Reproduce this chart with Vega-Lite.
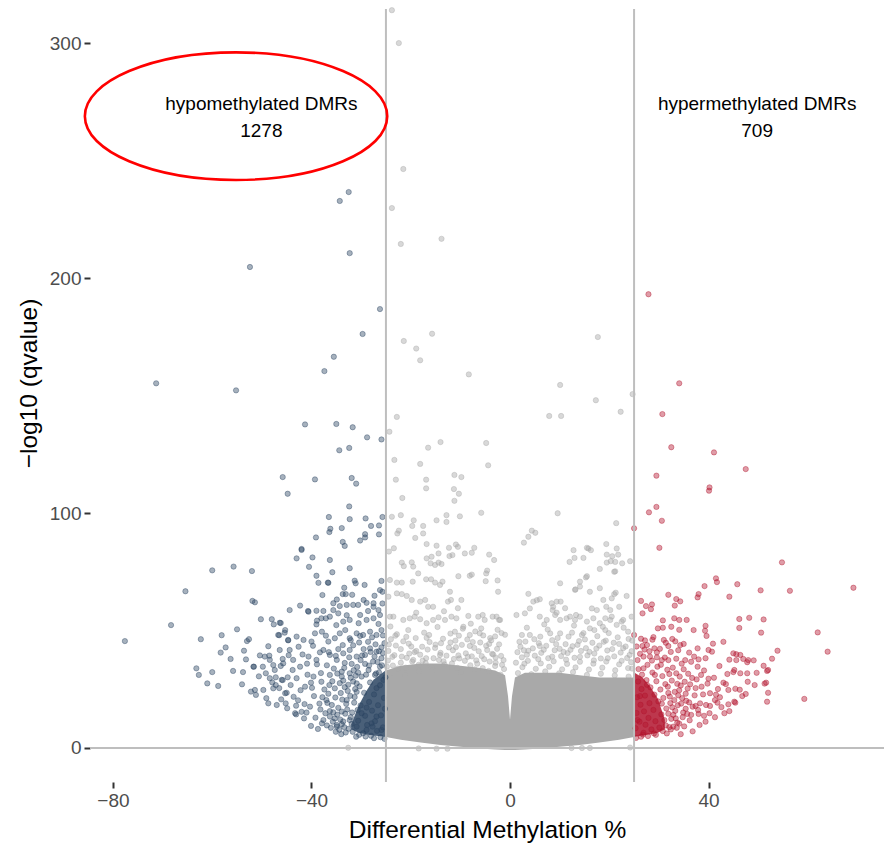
{
"$schema":"https://vega.github.io/schema/vega-lite/v6.json",
"width":794,"height":773,
"autosize":{"type":"none"},
"padding":{"left":90,"top":9,"right":0,"bottom":61},
"background":"white",
"config":{"view":{"stroke":null},"font":"Liberation Sans",
 "axisX":{"domain":false,"grid":false,"tickSize":6,"tickWidth":2,"tickColor":"#333333","labelColor":"#4d4d4d","labelFontSize":19,"labelPadding":3,"labelFont":"Liberation Sans","titleFont":"Liberation Sans","titleFontSize":24.5,"titleFontWeight":"normal","titleColor":"#000000","titleBaseline":"alphabetic","titleY":55},
 "axisY":{"domain":false,"grid":false,"tickSize":6,"tickWidth":2,"tickColor":"#333333","labelColor":"#4d4d4d","labelFontSize":19,"labelPadding":3,"labelFont":"Liberation Sans","titleFont":"Liberation Sans","titleFontSize":24.5,"titleFontWeight":"normal","titleColor":"#000000","titleBaseline":"alphabetic","titleX":-54,"titleY":374}
},
"datasets":{
"gmass":[{"x":-25,"top":33,"bot":4.7},{"x":-22,"top":35,"bot":3.5},{"x":-18,"top":36,"bot":2.3},{"x":-14,"top":36,"bot":1.3},{"x":-10,"top":35,"bot":0.5},{"x":-6,"top":34,"bot":-0.2},{"x":-3,"top":33,"bot":-0.6},{"x":-1,"top":31,"bot":-0.8},{"x":-0.4,"top":22,"bot":-0.9},{"x":0,"top":12,"bot":-0.9},{"x":0.4,"top":22,"bot":-0.9},{"x":1,"top":30,"bot":-0.8},{"x":3,"top":32,"bot":-0.6},{"x":6,"top":32,"bot":-0.2},{"x":10,"top":32,"bot":0.5},{"x":14,"top":31,"bot":1.3},{"x":18,"top":30,"bot":2.3},{"x":22,"top":30,"bot":3.5},{"x":25,"top":30,"bot":4.7}],
"bmass":[{"x":-32,"top":10,"bot":8},{"x":-30.5,"top":18,"bot":6.5},{"x":-29,"top":24,"bot":5.8},{"x":-27.5,"top":29,"bot":5.3},{"x":-25.1,"top":33,"bot":4.8}],
"rmass":[{"x":25.1,"top":32,"bot":4.8},{"x":26.7,"top":30,"bot":5.3},{"x":28.3,"top":26,"bot":5.8},{"x":29.8,"top":21,"bot":6.5},{"x":31.2,"top":12,"bot":8}],
"gray":[
{"x":-23.8,"y":314},{"x":-22.4,"y":300},{"x":-21.5,"y":246.4},{"x":-23.8,"y":229.8},{"x":-22,"y":214.5},{"x":-13.8,"y":216.7},{"x":-15.7,"y":176.3},{"x":-21.4,"y":173.2},{"x":-18.9,"y":170},{"x":-18.1,"y":165},{"x":-8.3,"y":159},{"x":17.7,"y":174.9},{"x":10.1,"y":154.5},{"x":17.3,"y":148},{"x":24.7,"y":150.6},{"x":22.3,"y":143.1},{"x":7.9,"y":141.3},{"x":10.3,"y":141.3},{"x":-22.8,"y":140.9},{"x":-24.3,"y":134.6},{"x":-14,"y":130.2},{"x":-16.5,"y":127.8},{"x":-4.8,"y":129.8},{"x":-4.4,"y":120.3},{"x":-23.3,"y":122.6},{"x":-18.1,"y":120.9},{"x":-23,"y":114.2},{"x":-16.9,"y":114.2},{"x":-16.9,"y":110.5},{"x":-11.2,"y":116.2},{"x":-9.8,"y":115.3},{"x":-11.3,"y":110.2},{"x":-10.3,"y":108.2},{"x":-11.2,"y":105.2},{"x":-21.7,"y":106.4},{"x":-5.8,"y":100.1},{"x":9.6,"y":99.9},{"x":21.4,"y":95.7},{"x":-23.8,"y":98.4},{"x":-22,"y":99.1},{"x":-19.4,"y":96.9},{"x":-14.8,"y":96.9},{"x":-12.8,"y":99.1},{"x":-12.8,"y":96.2},{"x":-10.1,"y":98.6},{"x":-19.7,"y":94.5},{"x":-17.5,"y":94.5},{"x":-17.5,"y":91.3},{"x":-22.4,"y":92.5},{"x":-22.7,"y":91.3},{"x":-19.1,"y":89.4},{"x":4.4,"y":92.5},{"x":5.1,"y":91.6},{"x":3.7,"y":89.9},{"x":2.8,"y":87.4},
{"x":-23.4,"y":85},{"x":-24.4,"y":83.6},{"x":-16.8,"y":86.8},{"x":-14.8,"y":86.1},{"x":-12.3,"y":85.2},{"x":-10.9,"y":86.6},{"x":-10.5,"y":85.6},{"x":-9.1,"y":82.8},{"x":-7.7,"y":83.1},{"x":-4.2,"y":82.3},{"x":-3.2,"y":80},{"x":-4.8,"y":74.3},{"x":-4.6,"y":75.5},{"x":-7.7,"y":73.8},{"x":-10.4,"y":73.1},{"x":-2.5,"y":71.3},{"x":-2.4,"y":66.5},{"x":-21.8,"y":78.9},{"x":-19.8,"y":79},{"x":-21.4,"y":77.4},{"x":-19.5,"y":77.2},{"x":-16.8,"y":80.7},{"x":-15.8,"y":81.4},{"x":-16,"y":78.6},{"x":-15.1,"y":77.9},{"x":-14.4,"y":78.9},{"x":-13.8,"y":78.3},{"x":-12.2,"y":81.7},{"x":-11.6,"y":82.1},{"x":-14.4,"y":82.8},{"x":-24.2,"y":71.5},{"x":-22.8,"y":70.4},{"x":-21.8,"y":70.4},{"x":-19.6,"y":70.8},{"x":-18.5,"y":74.3},{"x":-16.9,"y":71.8},{"x":-15.9,"y":71.8},{"x":-15.1,"y":70.4},{"x":-14.1,"y":69.4},{"x":-13.6,"y":70.8},{"x":-12.1,"y":66.5},{"x":-11.9,"y":63},{"x":-24.5,"y":64.4},{"x":-22.8,"y":65.8},{"x":-21.8,"y":65.5},{"x":-20.8,"y":64.7},{"x":-19.8,"y":63},{"x":-18.1,"y":62.3},{"x":-17.1,"y":63},{"x":-16.5,"y":60.1},{"x":-15.5,"y":60.1},{"x":-12.5,"y":62.3},{"x":-9.8,"y":63},{"x":-10.5,"y":59.5},{"x":-24.2,"y":55.9},{"x":-23.5,"y":55.9},{"x":-21.5,"y":54.5},{"x":-20.2,"y":55.2},{"x":-19.2,"y":55.9},{"x":-18.1,"y":54.8},{"x":-16.8,"y":53.1},{"x":-15.5,"y":54.5},{"x":-14.4,"y":55.6},{"x":-13.1,"y":54.5},{"x":-11.8,"y":55.9},{"x":-10.8,"y":55.2},{"x":-8.4,"y":56.2},{"x":-6.4,"y":55.9},{"x":-5.1,"y":54.5},{"x":-5.8,"y":50.9},{"x":-2.7,"y":55.9},{"x":-2,"y":54.5},{"x":-1.7,"y":48.9},{"x":-1,"y":48.2},{"x":-3,"y":47.5},{"x":-4,"y":46.8},
{"x":12.8,"y":84.2},{"x":15.8,"y":84.9},{"x":16.3,"y":84.2},{"x":19.4,"y":86.8},{"x":21.5,"y":84.9},{"x":19.5,"y":82.3},{"x":20.3,"y":79.5},{"x":21.2,"y":79.2},{"x":21.8,"y":82.3},{"x":12,"y":79.2},{"x":13,"y":80.9},{"x":14.8,"y":80.9},{"x":15.5,"y":73.1},{"x":18.1,"y":76.2},{"x":21.2,"y":75.2},{"x":24.2,"y":79.5},{"x":3.7,"y":65.6},{"x":4.7,"y":62.3},{"x":6,"y":63.3},{"x":8.4,"y":61.6},{"x":9.4,"y":62.3},{"x":10.1,"y":70.1},{"x":10.2,"y":62.3},{"x":11.1,"y":59.5},{"x":13.1,"y":67.3},{"x":14.1,"y":68.7},{"x":14.1,"y":70.8},{"x":16.1,"y":66.5},{"x":18.1,"y":68},{"x":18.8,"y":63},{"x":20.5,"y":63.7},{"x":21.3,"y":66.1},{"x":23.5,"y":64.7},{"x":24.5,"y":55.9},{"x":22,"y":60.1},{"x":20.2,"y":58.7},{"x":19.2,"y":55.2},{"x":1.3,"y":56.6},{"x":3,"y":57.3},{"x":6,"y":55.9},{"x":7.4,"y":54.5},{"x":8.6,"y":58.7},{"x":9.1,"y":56.6},{"x":10.1,"y":54.5},{"x":12.1,"y":55.9},{"x":13.1,"y":54.5},{"x":14.1,"y":55.9},{"x":15.5,"y":53.8},{"x":16.8,"y":55.2},{"x":18.1,"y":53.1},{"x":20.2,"y":54.5},{"x":21.5,"y":52.4},{"x":22.8,"y":54.5},{"x":23.8,"y":49.5},{"x":19.2,"y":50.2},{"x":17,"y":50.2},{"x":14.8,"y":48.9},{"x":12.5,"y":49.1},
{"x":15.5,"y":85.2},{"x":-7.2,"y":85.2},{"x":19.5,"y":78.9},{"x":20.6,"y":81.6},{"x":-8.1,"y":73.3},{"x":-4.9,"y":71},{"x":4,"y":59.4},{"x":5.4,"y":62.9},{"x":13.2,"y":67.5},{"x":15.3,"y":72.6},{"x":21,"y":75},{"x":21,"y":65.5},{"x":22.6,"y":78.6},{"x":8.7,"y":60.1},{"x":9.4,"y":57.6},{"x":11.4,"y":55.2},{"x":13.3,"y":56.6},{"x":16.5,"y":59.4},{"x":17.5,"y":58.7},{"x":19.4,"y":60.1},{"x":20.5,"y":55.9},{"x":22.5,"y":53.8},{"x":18.7,"y":51.6},{"x":16.1,"y":50.9},{"x":14.5,"y":48.1},{"x":11.8,"y":47.4},{"x":10.1,"y":48.8},{"x":8.1,"y":48.8},{"x":6.1,"y":47.4},{"x":4,"y":48.1},{"x":2.4,"y":48.1},{"x":-2.2,"y":54.5},{"x":-3.5,"y":55.9},{"x":-5.5,"y":56.6},{"x":-6.1,"y":48.8},{"x":-8.1,"y":48.1},{"x":-9.4,"y":51.6},{"x":-11.1,"y":49.5},
{"x":-20.5,"y":50.2},{"x":-17.3,"y":49.1},{"x":-14.6,"y":51.5},{"x":-12,"y":48.7},{"x":-9.5,"y":50.8},{"x":-7,"y":49.6},{"x":-22.8,"y":48.4},{"x":-24.1,"y":51.7},{"x":-18.9,"y":57.6},{"x":-13.3,"y":58.2},{"x":-7.9,"y":52.9},{"x":-2.5,"y":50.3},{"x":3.4,"y":51.2},{"x":6.9,"y":52.6},{"x":17.6,"y":47.6},{"x":21.7,"y":47.1},{"x":23.9,"y":46.4},{"x":12.9,"y":52.1},
{"x":-24,"y":46.3},{"x":-21.5,"y":45.4},{"x":-19,"y":46.8},{"x":-16.2,"y":45.1},{"x":-13.5,"y":46.5},{"x":-11,"y":45.7},{"x":-8.6,"y":46.2},{"x":-6,"y":44.9},{"x":-3.8,"y":45.8},
{"x":-23,"y":43.6},{"x":-20.4,"y":44.4},{"x":-17.7,"y":43.1},{"x":-15,"y":44},{"x":-12.3,"y":42.8},{"x":-9.7,"y":43.9},{"x":-7.2,"y":42.6},{"x":-4.8,"y":43.5},{"x":-2.6,"y":42.2},
{"x":-24.5,"y":41.3},{"x":-22,"y":42.1},{"x":-19.2,"y":40.8},{"x":-16.6,"y":41.9},{"x":-14,"y":40.5},{"x":-11.5,"y":41.6},{"x":-8.9,"y":40.3},{"x":-6.3,"y":41.2},{"x":-3.6,"y":40.1},{"x":-1.8,"y":39.2},
{"x":-23.3,"y":39.5},{"x":-20.8,"y":38.4},{"x":-18.1,"y":39.7},{"x":-15.4,"y":38.2},{"x":-12.8,"y":39.3},{"x":-10.2,"y":38.1},{"x":-7.7,"y":39},{"x":-5.2,"y":37.8},{"x":-2.9,"y":38.5},
{"x":-24.6,"y":37.2},{"x":-22,"y":36.3},{"x":-19.5,"y":37.5},{"x":-17,"y":36.1},{"x":-14.3,"y":37.4},{"x":-11.7,"y":36},{"x":-9.1,"y":37.1},{"x":-6.6,"y":35.9},{"x":-4.1,"y":36.8},{"x":-1.6,"y":35.4},
{"x":-23.6,"y":35.1},{"x":-21,"y":34.2},{"x":-18.4,"y":35.4},{"x":-15.8,"y":34.4},{"x":-13.2,"y":35.6},{"x":-10.6,"y":34.1},{"x":-8,"y":35.2},{"x":-5.5,"y":34},{"x":-3,"y":34.9},{"x":-1.2,"y":33.6},
{"x":3.1,"y":45.3},{"x":5.8,"y":44.6},{"x":8.5,"y":45.9},{"x":11.2,"y":44.2},{"x":13.9,"y":45.5},{"x":16.6,"y":44.8},{"x":19.3,"y":45.7},{"x":22,"y":44.3},
{"x":2.1,"y":43.1},{"x":4.6,"y":42.4},{"x":7.3,"y":43.5},{"x":10,"y":42.2},{"x":12.6,"y":43.3},{"x":15.3,"y":42.5},{"x":18,"y":43.6},{"x":20.6,"y":42.1},{"x":23.3,"y":43.2},
{"x":1.5,"y":40.8},{"x":3.7,"y":41.4},{"x":6.3,"y":40.5},{"x":9,"y":41.6},{"x":11.6,"y":40.4},{"x":14.3,"y":41.3},{"x":17,"y":40.2},{"x":19.6,"y":41.5},{"x":22.3,"y":40.6},{"x":24.5,"y":41.2},
{"x":2.4,"y":38.6},{"x":5,"y":39.3},{"x":7.7,"y":38.2},{"x":10.3,"y":39.1},{"x":13,"y":38.4},{"x":15.6,"y":39.4},{"x":18.3,"y":38.1},{"x":21,"y":39},{"x":23.6,"y":38.3},
{"x":1.2,"y":36.3},{"x":3.6,"y":37.1},{"x":6.2,"y":36},{"x":8.8,"y":36.9},{"x":11.5,"y":35.8},{"x":14.1,"y":36.7},{"x":16.8,"y":35.9},{"x":19.4,"y":36.8},{"x":22,"y":35.6},{"x":24.4,"y":36.5},
{"x":2.5,"y":34.4},{"x":5.2,"y":33.7},{"x":7.9,"y":34.6},{"x":10.5,"y":33.5},{"x":13.2,"y":34.3},{"x":15.9,"y":33.4},{"x":18.6,"y":34.2},{"x":21.2,"y":33.1},{"x":23.8,"y":34},
{"x":-24.2,"y":31.5},{"x":-22.6,"y":33.8},{"x":-21.1,"y":30.9},{"x":-19.7,"y":36.8},{"x":-18.3,"y":32.7},{"x":-16.9,"y":38.2},{"x":-15.5,"y":33.1},{"x":-14.1,"y":39.6},{"x":-12.7,"y":34.4},{"x":-11.3,"y":37.9},{"x":-9.9,"y":32.2},{"x":-8.5,"y":38.8},{"x":-7.1,"y":33.5},{"x":-5.7,"y":39.1},{"x":-4.3,"y":32.8},{"x":-2.9,"y":36.3},{"x":-1.9,"y":31.2},{"x":-1.3,"y":37.4},
{"x":-23.7,"y":38.8},{"x":-20.3,"y":40.2},{"x":-17.6,"y":37.2},{"x":-13.4,"y":36.9},{"x":-10.4,"y":39.4},{"x":-6.8,"y":37.3},{"x":-3.4,"y":39.8},{"x":-24.8,"y":34.6},{"x":-21.8,"y":38.9},{"x":-18.9,"y":41.3},{"x":-15.1,"y":42.6},{"x":-12,"y":44.9},{"x":-8.1,"y":43.4},{"x":-4.6,"y":41.7},{"x":-2.2,"y":44.1},{"x":-20.9,"y":47.3},{"x":-16.3,"y":48.1},{"x":-10.3,"y":47.8},{"x":-5.4,"y":47.9},
{"x":1.6,"y":31.9},{"x":2.9,"y":35.9},{"x":4.3,"y":31.4},{"x":5.7,"y":37.8},{"x":7.1,"y":32.6},{"x":8.5,"y":38.9},{"x":9.9,"y":31.8},{"x":11.3,"y":37.6},{"x":12.7,"y":32.3},{"x":14.1,"y":38.8},{"x":15.5,"y":31.1},{"x":16.9,"y":37.3},{"x":18.3,"y":31.6},{"x":19.7,"y":38.2},{"x":21.1,"y":30.9},{"x":22.5,"y":37.1},{"x":23.9,"y":30.4},{"x":24.6,"y":33.8},
{"x":3.4,"y":39.7},{"x":6.8,"y":41.8},{"x":10.8,"y":40.9},{"x":13.6,"y":43.9},{"x":17.4,"y":42.3},{"x":20.9,"y":44.8},{"x":24.1,"y":39.6},{"x":4.9,"y":46.3},{"x":9.6,"y":46.8},{"x":15.1,"y":46.2},{"x":19.9,"y":48.9},{"x":1.9,"y":45.2},{"x":7.6,"y":50.4},{"x":22.9,"y":51.2},
{"x":-24.4,"y":44.1},{"x":-23.1,"y":47.8},{"x":-19.9,"y":43.2},{"x":-16.8,"y":46.9},{"x":-13.9,"y":44.6},{"x":-10.9,"y":42.9},{"x":-7.5,"y":45.1},{"x":-4.2,"y":44.3},{"x":2.8,"y":41.6},{"x":6,"y":43.4},{"x":9.3,"y":44.2},{"x":12.2,"y":41.8},{"x":16,"y":40.9},{"x":18.9,"y":45.2},{"x":22.8,"y":42.5},{"x":24.6,"y":45.7},
{"x":-32.6,"y":0.1},{"x":-18.4,"y":-0.2},{"x":-14.8,"y":-0.3},{"x":-12.6,"y":-0.3},{"x":12.4,"y":0},{"x":14.5,"y":0},{"x":16.1,"y":0},{"x":24.2,"y":0.2}
],
"hypo":[
{"x":-32.5,"y":236.6},{"x":-34.3,"y":232.8},{"x":-32.3,"y":210.6},{"x":-52.4,"y":204.7},{"x":-26.2,"y":186.8},{"x":-29.7,"y":176.2},{"x":-35.5,"y":166.5},{"x":-37.4,"y":160.4},{"x":-55.2,"y":152.2},{"x":-71.3,"y":155.2},{"x":-41.3,"y":137.7},{"x":-35,"y":137.9},{"x":-31.7,"y":136.5},{"x":-28.8,"y":132.2},{"x":-25.9,"y":131.3},{"x":-34.4,"y":126.7},{"x":-32.4,"y":127.7},{"x":-45.8,"y":115.3},{"x":-39.3,"y":114.3},{"x":-31.9,"y":114.9},{"x":-31,"y":112.5},{"x":-44.8,"y":108.2},{"x":-32.4,"y":102.8},{"x":-36.5,"y":98.3},{"x":-32.3,"y":97.4},{"x":-29.1,"y":97.7},{"x":-25.7,"y":98.3},{"x":-36.2,"y":93.3},{"x":-36.4,"y":91.9},{"x":-33.9,"y":93.6},{"x":-28,"y":94.5},{"x":-26.4,"y":94.7},{"x":-29.2,"y":91},{"x":-29.2,"y":89.6},{"x":-26.4,"y":90.9},{"x":-39.1,"y":89.6},{"x":-33.7,"y":87.7},{"x":-33.3,"y":86},{"x":-30.2,"y":88.3},{"x":-42,"y":84.7},
{"x":-77.6,"y":45.5},{"x":-68.3,"y":52.3},{"x":-65.4,"y":66.7},{"x":-60,"y":75.6},{"x":-55.7,"y":77.2},{"x":-52,"y":75.3},{"x":-51.9,"y":62.6},{"x":-51.4,"y":62},{"x":-62.3,"y":46.3},{"x":-58.1,"y":48},{"x":-55,"y":50.5},{"x":-57.3,"y":42.8},{"x":-58.3,"y":40.6},{"x":-56.3,"y":37.9},{"x":-63.2,"y":33.9},{"x":-62.7,"y":31.1},{"x":-60,"y":32.3},{"x":-61,"y":27.5},{"x":-58.8,"y":26.4},{"x":-54,"y":27.1},{"x":-53.8,"y":32.3},{"x":-53,"y":45.5},{"x":-52.6,"y":46.3},{"x":-53.6,"y":41.4},{"x":-51.6,"y":34.6},{"x":-52.2,"y":24},{"x":-51.2,"y":22.6},{"x":-51.4,"y":24.7},{"x":-50.2,"y":54.8},{"x":-48,"y":54.8},{"x":-46.2,"y":53.2},{"x":-47.6,"y":52.6},{"x":-48.7,"y":43.3},{"x":-48.5,"y":39.3},{"x":-50.4,"y":39.4},{"x":-46.5,"y":48},{"x":-45.4,"y":49.1},{"x":-44.7,"y":45.8},{"x":-46.4,"y":41.7},{"x":-44.4,"y":41.7},{"x":-45.8,"y":37.9},{"x":-46.2,"y":34.9},{"x":-47.7,"y":35.3},{"x":-49.8,"y":34.6},{"x":-49.2,"y":31.8},{"x":-48.4,"y":29.7},{"x":-47.2,"y":30.1},{"x":-47.2,"y":26.8},{"x":-46.5,"y":25.5},{"x":-45.8,"y":28.9},{"x":-44.8,"y":30.1},{"x":-44.2,"y":26.8},{"x":-45,"y":23.5},{"x":-48.7,"y":19},{"x":-47,"y":18.3},{"x":-45.2,"y":19},{"x":-43.1,"y":14.3},{"x":-43.1,"y":18},{"x":-42,"y":15.4},{"x":-41,"y":15.1},{"x":-44.4,"y":58.7},{"x":-42.3,"y":60.6},{"x":-40.7,"y":58.3},{"x":-39,"y":58.4},{"x":-43,"y":80.7},{"x":-42,"y":84.3},{"x":-39.8,"y":81.1},{"x":-40.5,"y":77.1},{"x":-39,"y":73.3},{"x":-36.3,"y":80},{"x":-35.8,"y":74.8},{"x":-38.6,"y":70.3},{"x":-36.6,"y":70.3},{"x":-37.8,"y":65.1},{"x":-32.3,"y":76.5},{"x":-33.4,"y":68.2},{"x":-33.7,"y":65.5},{"x":-33.1,"y":65.5},{"x":-31.3,"y":71.2},{"x":-31.1,"y":70.1},{"x":-29.3,"y":69.4},{"x":-25.9,"y":71.1},{"x":-26.2,"y":67.2},{"x":-25.7,"y":66.5},{"x":-35.6,"y":61.6},{"x":-34.9,"y":63.2},{"x":-34.3,"y":60.4},{"x":-35.6,"y":58.7},{"x":-37.6,"y":58.3},{"x":-37.1,"y":55.2},{"x":-38.9,"y":54.2},{"x":-39,"y":52.6},
{"x":-36.7,"y":70.4},{"x":-27.5,"y":61.6},{"x":-29.5,"y":63},{"x":-32.9,"y":60.9},{"x":-31.6,"y":60.9},{"x":-30.6,"y":60.9},{"x":-28.9,"y":61.8},{"x":-27.5,"y":60.1},{"x":-26.5,"y":58.7},{"x":-40.6,"y":58},{"x":-38,"y":55.2},{"x":-36.3,"y":55.9},{"x":-34.6,"y":57.3},{"x":-33.6,"y":53.8},{"x":-32.3,"y":54.5},{"x":-30.2,"y":56.6},{"x":-28.9,"y":54.5},{"x":-27.5,"y":55.2},{"x":-26.2,"y":56.6},{"x":-46.4,"y":53.3},{"x":-45.3,"y":50.2},{"x":-46.7,"y":48.1},{"x":-44.7,"y":46},{"x":-43,"y":47.4},{"x":-41.6,"y":46},{"x":-40,"y":45.3},{"x":-39.3,"y":48.8},{"x":-37.9,"y":49.5},{"x":-36.6,"y":45.3},{"x":-35.3,"y":46.7},{"x":-34.3,"y":48.8},{"x":-33.2,"y":50.2},{"x":-32.3,"y":46.7},{"x":-30.9,"y":48.8},{"x":-29.6,"y":48.1},{"x":-28.2,"y":49.5},{"x":-26.9,"y":48.1},{"x":-25.9,"y":50.2},{"x":-51.7,"y":34.6},{"x":-49.4,"y":38.9},{"x":-48.4,"y":37.5},{"x":-47.4,"y":33.2},{"x":-45.7,"y":36},{"x":-43.7,"y":37.5},{"x":-42.3,"y":34.6},{"x":-40.6,"y":38.9},{"x":-39,"y":37.5},{"x":-37.6,"y":41.7},{"x":-36.3,"y":39.6},{"x":-34.9,"y":37.5},{"x":-33.6,"y":40.3},{"x":-32.3,"y":41.7},{"x":-30.9,"y":38.9},{"x":-29.2,"y":39.6},{"x":-28.2,"y":42.4},{"x":-26.9,"y":41},{"x":-25.9,"y":38.2},{"x":-49.7,"y":24.7},{"x":-47.7,"y":25.4},{"x":-45.3,"y":23.3},{"x":-46,"y":29},{"x":-43,"y":29.7},{"x":-41.3,"y":26.1},{"x":-39.6,"y":30.4},{"x":-38,"y":28.2},{"x":-36.3,"y":31.1},{"x":-35.3,"y":25.4},{"x":-33.9,"y":30.4},{"x":-32.3,"y":31.8},{"x":-30.9,"y":27.5},{"x":-29.9,"y":30.4},{"x":-28.5,"y":33.2},{"x":-27.2,"y":31.1},{"x":-26.2,"y":34.6},{"x":-25.5,"y":29},{"x":-43.3,"y":14.8},{"x":-40.3,"y":17.6},{"x":-37.9,"y":10.5},{"x":-36.3,"y":13.4},{"x":-34.9,"y":9.1},{"x":-33.9,"y":15.5},{"x":-32.3,"y":11.9},{"x":-30.9,"y":9.1},{"x":-29.9,"y":14.8},{"x":-28.9,"y":7.7},{"x":-27.9,"y":10.5},{"x":-26.9,"y":13.4},{"x":-25.9,"y":7.7},{"x":-32.9,"y":20.4},{"x":-37,"y":20.4},
{"x":-39.5,"y":22.1},{"x":-38.2,"y":16.4},{"x":-37.4,"y":24.9},{"x":-36.8,"y":19.2},{"x":-36.1,"y":8.6},{"x":-35.5,"y":33.8},{"x":-35.2,"y":21.5},{"x":-34.8,"y":14.2},{"x":-34.3,"y":27.6},{"x":-34,"y":5.9},{"x":-33.6,"y":11.3},{"x":-33.3,"y":36.2},{"x":-33,"y":18.8},{"x":-32.7,"y":24.3},{"x":-32.5,"y":8.2},{"x":-32.1,"y":29.9},{"x":-31.8,"y":15.1},{"x":-31.6,"y":43.7},{"x":-31.3,"y":21.7},{"x":-31,"y":4.8},{"x":-30.8,"y":34.5},{"x":-30.6,"y":11.6},{"x":-30.3,"y":26.2},{"x":-30.1,"y":18.1},{"x":-29.8,"y":39.4},{"x":-29.6,"y":6.3},{"x":-29.4,"y":23.5},{"x":-29.2,"y":13.7},{"x":-29,"y":31.2},{"x":-28.8,"y":9.8},{"x":-28.6,"y":45.2},{"x":-28.4,"y":19.6},{"x":-28.2,"y":27.9},{"x":-28,"y":5.2},{"x":-27.8,"y":15.9},{"x":-27.6,"y":36.8},{"x":-27.4,"y":22.8},{"x":-27.2,"y":11.4},{"x":-27,"y":31.7},{"x":-26.8,"y":7.3},{"x":-26.6,"y":18.2},{"x":-26.4,"y":41.2},{"x":-26.2,"y":26.7},{"x":-26,"y":13.9},{"x":-25.8,"y":35.2},{"x":-25.6,"y":8.8},{"x":-25.4,"y":21.3},{"x":-25.3,"y":44.6},{"x":-25.2,"y":16.7},{"x":-25.1,"y":30.1},
{"x":-41.5,"y":12.6},{"x":-42.7,"y":20.3},{"x":-40.8,"y":31.2},{"x":-38.9,"y":35.6},{"x":-37.6,"y":11.9},{"x":-36.5,"y":40.8},{"x":-35.8,"y":28.4},{"x":-34.6,"y":42.1},{"x":-33.9,"y":32.5},{"x":-32.4,"y":38.6},{"x":-31.1,"y":30.8},{"x":-30.4,"y":44.9},{"x":-29.2,"y":35.8},{"x":-28.1,"y":40.9},{"x":-27.1,"y":44.1},{"x":-26.4,"y":32.2},{"x":-25.6,"y":40.4},{"x":-26.9,"y":25.5},{"x":-27.7,"y":9.1},{"x":-28.9,"y":17.2},{"x":-30.9,"y":23.9},{"x":-31.9,"y":10.3},{"x":-33.2,"y":14.6},{"x":-34.9,"y":9.8},{"x":-36.3,"y":15.7},{"x":-38.7,"y":8.1},{"x":-40.1,"y":9.4},{"x":-43.6,"y":21.8},{"x":-44.9,"y":16.9},{"x":-46.1,"y":20.7},{"x":-47.9,"y":27.9},{"x":-50.6,"y":30.5},{"x":-49.1,"y":21.2},{"x":-53.2,"y":37.7},{"x":-55.8,"y":32.8},{"x":-41.8,"y":39.8},{"x":-39.7,"y":43.5},{"x":-37.1,"y":47.8},{"x":-35,"y":52.3},{"x":-32.9,"y":56.5},{"x":-30.5,"y":53.1},{"x":-28.6,"y":58.3},{"x":-26.5,"y":52.8},{"x":-25.7,"y":61.5},{"x":-27.3,"y":64.8},{"x":-31.8,"y":65.2},
{"x":-25.3,"y":3.9},{"x":-26.1,"y":4.6},{"x":-27.4,"y":4.2},{"x":-29.1,"y":4.9},{"x":-30.4,"y":5.6},{"x":-31.7,"y":6.9},{"x":-33.1,"y":6.6},{"x":-34.4,"y":7.8},{"x":-35.7,"y":11.2},{"x":-37.2,"y":14.8},{"x":-38.4,"y":18.9},{"x":-39.9,"y":25.6},{"x":-38.1,"y":31.9},{"x":-36.9,"y":35.2},{"x":-35.1,"y":39.2},{"x":-33.7,"y":43.8},{"x":-32.1,"y":45.9},{"x":-30.2,"y":47.7},{"x":-27.8,"y":47.1},{"x":-25.6,"y":47.9},{"x":-34.1,"y":23.4},{"x":-35.9,"y":18.3},{"x":-37.8,"y":21.6},{"x":-36.4,"y":26.8},{"x":-33.6,"y":28.7},{"x":-31.5,"y":33.1},{"x":-29.5,"y":42.1},{"x":-27.3,"y":38.9},{"x":-25.9,"y":42.8},{"x":-26.7,"y":36.6},{"x":-28.4,"y":35.1},{"x":-30.1,"y":37.4},{"x":-31.9,"y":35.8},{"x":-33.4,"y":34.1},{"x":-34.8,"y":31.7},{"x":-32.6,"y":26.9},{"x":-31.2,"y":25.1},{"x":-30.7,"y":16.2},{"x":-32.1,"y":13.1},{"x":-33.9,"y":10.1},{"x":-35.3,"y":12.6},{"x":-36.9,"y":9.6},{"x":-39.2,"y":12.9},{"x":-41.4,"y":18.7},{"x":-42.2,"y":24.6},{"x":-40.9,"y":35.9},{"x":-43.8,"y":33.2},{"x":-44.6,"y":39.5},{"x":-42.6,"y":43.1},{"x":-38.3,"y":40.7},{"x":-40.1,"y":27.8},{"x":-36.6,"y":23.1},
{"x":-33.8,"y":20.6},{"x":-34.6,"y":17.1},{"x":-35.6,"y":15.2},{"x":-33.3,"y":25.9},{"x":-32.2,"y":22.2},{"x":-31.4,"y":19.3},{"x":-32.8,"y":16.4},{"x":-34.2,"y":12.1},{"x":-35.1,"y":6.9},{"x":-33.4,"y":8.9},{"x":-31.6,"y":28.3},{"x":-30.6,"y":32.1}
],
"hyper":[
{"x":27.9,"y":193.1},{"x":34.1,"y":155.2},{"x":30.7,"y":142.1},{"x":32.5,"y":128},{"x":41.1,"y":125.8},{"x":47.5,"y":118.7},{"x":29.5,"y":115.9},{"x":40.2,"y":110.9},{"x":40.1,"y":109.5},{"x":29.5,"y":102.6},{"x":28,"y":100.3},{"x":30.6,"y":96.7},{"x":25,"y":93.5},{"x":30.1,"y":85.2},{"x":54.8,"y":79},{"x":41.5,"y":72.2},{"x":41.7,"y":70.6},{"x":39.2,"y":68.9},{"x":45.8,"y":69.7},{"x":69.2,"y":68.2},{"x":50.5,"y":67.1},{"x":56.4,"y":66.9},{"x":31.9,"y":65.2},{"x":38,"y":65.5},{"x":37.8,"y":64.1},{"x":44.2,"y":64.4},{"x":26.4,"y":62.6},{"x":27.4,"y":60.4},{"x":28.6,"y":61.1},{"x":28.4,"y":59.1},{"x":33.5,"y":63.4},{"x":34.3,"y":62.4},{"x":33.2,"y":60.6},{"x":26.7,"y":57.3},{"x":30.8,"y":54.3},{"x":33.1,"y":55.2},{"x":34.1,"y":54.5},{"x":35.6,"y":54.5},{"x":46.2,"y":54.9},{"x":48.2,"y":55.4},{"x":51.1,"y":54.7},{"x":29.8,"y":50.9},{"x":30.8,"y":51.2},{"x":32.5,"y":51.6},{"x":34.1,"y":50.3},{"x":37,"y":50.2},{"x":39.4,"y":52},{"x":39.3,"y":49.9},{"x":39.6,"y":47.7},{"x":46.2,"y":51.1},{"x":50.6,"y":49.1},{"x":62,"y":49.2},{"x":25,"y":48.1},{"x":26.4,"y":46.5},{"x":27.2,"y":45.8},{"x":28.7,"y":46.1},{"x":31,"y":46},{"x":32.7,"y":46.4},{"x":33.3,"y":45.4},{"x":35,"y":44.3},{"x":40.9,"y":44.4},{"x":43,"y":45.2},{"x":26.7,"y":43.4},{"x":27.6,"y":43.8},{"x":29.1,"y":42.4},{"x":31.9,"y":43.4},{"x":34.3,"y":43.8},{"x":37.8,"y":42.4},{"x":40,"y":41.7},{"x":40.7,"y":41},{"x":53.9,"y":41.4},{"x":64,"y":41},{"x":45,"y":40.3},{"x":45.6,"y":39.9},{"x":46.4,"y":39.6},{"x":44.2,"y":37.6},{"x":45.6,"y":37.4},{"x":47,"y":37.9},{"x":48,"y":37.4},{"x":49.1,"y":37.3},{"x":47.8,"y":36.5},{"x":52.8,"y":38},{"x":25.7,"y":37.4},{"x":26.9,"y":38.9},{"x":28.2,"y":38.9},{"x":29.6,"y":38.6},{"x":30.6,"y":37.4},{"x":31.9,"y":37.4},{"x":33.5,"y":38},{"x":35.3,"y":37.4},{"x":36.5,"y":36.7},{"x":38,"y":37.7},{"x":51.1,"y":35},{"x":52,"y":33.2},{"x":51.8,"y":32.8},{"x":45.2,"y":33.2},{"x":45,"y":32.3},{"x":46.4,"y":31.8},{"x":47.8,"y":31.8},{"x":49.7,"y":32},{"x":39.1,"y":33},{"x":41.1,"y":29.9},{"x":43,"y":27.8},{"x":40,"y":29.5},{"x":37.6,"y":29.2},{"x":38.5,"y":31.1},{"x":47.9,"y":28.2},{"x":49.3,"y":26.8},{"x":51.6,"y":27.8},{"x":51.3,"y":27.4},{"x":43.5,"y":27.2},{"x":44,"y":24.7},{"x":45.4,"y":25.2},{"x":46.3,"y":24.8},{"x":52,"y":23.5},{"x":51.8,"y":19.7},{"x":59.3,"y":20.9},{"x":46.8,"y":22.1},{"x":47.5,"y":23},{"x":45.4,"y":19.3},{"x":45.2,"y":19.7},{"x":44,"y":18.6},{"x":40.3,"y":23.3},{"x":41.5,"y":22.7},{"x":42.3,"y":21.6},{"x":41.3,"y":20.4},{"x":41.8,"y":19.3},{"x":40.3,"y":17.9},{"x":39.5,"y":18.3},{"x":38.3,"y":19},{"x":37.4,"y":17.9},{"x":36.8,"y":17.6},{"x":40.2,"y":14.8},{"x":41.3,"y":13.1},{"x":43.2,"y":14.8},{"x":44.2,"y":15.7},{"x":39.1,"y":13.7},{"x":38,"y":14.5},{"x":35.7,"y":14.5},{"x":34.8,"y":13.1},{"x":33.7,"y":10.8},{"x":32.9,"y":9.1},{"x":31.6,"y":6.2},{"x":29,"y":6.2},{"x":26.9,"y":6.5},
{"x":25.3,"y":8.4},{"x":25.5,"y":14.9},{"x":25.6,"y":21.6},{"x":25.8,"y":28.3},{"x":25.9,"y":33.6},{"x":26.1,"y":11.2},{"x":26.3,"y":18.4},{"x":26.5,"y":25.1},{"x":26.6,"y":31.2},{"x":26.8,"y":5.7},{"x":27,"y":15.6},{"x":27.2,"y":22.3},{"x":27.3,"y":9.9},{"x":27.5,"y":28.9},{"x":27.7,"y":35.4},{"x":27.9,"y":12.8},{"x":28.1,"y":19.1},{"x":28.3,"y":25.8},{"x":28.5,"y":7.9},{"x":28.7,"y":32.1},{"x":28.9,"y":16.2},{"x":29.1,"y":22.7},{"x":29.3,"y":11.4},{"x":29.5,"y":28.4},{"x":29.7,"y":34.6},{"x":29.9,"y":19.8},{"x":30.1,"y":8.7},{"x":30.3,"y":24.9},{"x":30.5,"y":14.3},{"x":30.7,"y":30.6},{"x":30.9,"y":21.3},{"x":31.1,"y":11.9},{"x":31.3,"y":27.2},{"x":31.5,"y":16.8},{"x":31.7,"y":33.3},{"x":31.9,"y":23.4},{"x":32.1,"y":8.9},{"x":32.3,"y":19.1},{"x":32.6,"y":28.7},{"x":32.9,"y":14.1},{"x":33.2,"y":23.9},{"x":33.5,"y":31.8},{"x":33.8,"y":18.2},{"x":34.1,"y":10.4},{"x":34.4,"y":26.6},{"x":34.7,"y":21.2},{"x":35,"y":33.5},{"x":35.4,"y":16.7},{"x":35.8,"y":25.3},{"x":36.2,"y":11.8},{"x":36.7,"y":29.8},{"x":37.2,"y":22.4},{"x":37.8,"y":34.6},{"x":38.6,"y":26.1},{"x":39.4,"y":38.2},{"x":42.2,"y":34.9},{"x":43.8,"y":31.5},{"x":36.1,"y":40.6},{"x":34.6,"y":35.9},{"x":32.4,"y":40.9},{"x":30.2,"y":42.2},{"x":28.1,"y":41.2},{"x":26.2,"y":40.1},
{"x":25.4,"y":4.3},{"x":26.4,"y":4.8},{"x":27.8,"y":5.1},{"x":29.4,"y":5.6},{"x":30.8,"y":7.2},{"x":32.4,"y":7.9},{"x":33.6,"y":8.6},{"x":35.1,"y":9.2},{"x":36.5,"y":14.1},{"x":37.9,"y":16.2},{"x":38.9,"y":22.8},{"x":36.3,"y":27.1},{"x":34.2,"y":30.4},{"x":32.8,"y":34.2},{"x":31.2,"y":38.5},{"x":29.6,"y":40.7},{"x":27.1,"y":41.9},{"x":25.5,"y":43.2},{"x":26.9,"y":33.9},{"x":28.6,"y":37.2},{"x":30.4,"y":35.4},{"x":32.1,"y":31.5},{"x":33.7,"y":27.3},{"x":35.4,"y":23.1},{"x":36.1,"y":19.4},{"x":34.9,"y":15.1},{"x":33.4,"y":12.6},{"x":31.9,"y":14.6},{"x":30.6,"y":18.9},{"x":29.2,"y":31.1},{"x":27.6,"y":26.9},{"x":26.2,"y":22.1},{"x":25.7,"y":11.9},{"x":33.1,"y":20.4},{"x":34.1,"y":24.6},{"x":35.9,"y":31.6},{"x":37.4,"y":25.5},{"x":38.2,"y":9.8},{"x":36.8,"y":7.1},{"x":34.4,"y":5.9},{"x":39.8,"y":27.4},{"x":41.9,"y":25.1},{"x":42.6,"y":17.4},{"x":39.4,"y":11.2},{"x":37.1,"y":38.9},{"x":33.9,"y":41.6},{"x":31.4,"y":44.8},{"x":28.9,"y":47.2},
{"x":32.2,"y":21.9},{"x":32.7,"y":17.3},{"x":33.3,"y":15.8},{"x":31.8,"y":26.1},{"x":33.9,"y":22.4},{"x":34.5,"y":18.9},{"x":32.5,"y":12.4},{"x":31.4,"y":9.6},{"x":35.5,"y":20.1},{"x":35.2,"y":28.2}
],
"vl":[{"x":-25},{"x":25}],
"hl":[{"y":0}],
"lab":[{"x":-50.1,"y":274.2,"t":"hypomethylated DMRs\n1278"},{"x":49.8,"y":274.2,"t":"hypermethylated DMRs\n709"}],
"ell":[{"x":-55.2,"y":268.9}]
},
"layer":[
{"data":{"name":"gmass"},"mark":{"type":"area","color":"#a9a9a9","opacity":1},
 "encoding":{
  "x":{"field":"x","type":"quantitative","title":"Differential Methylation %","scale":{"domain":[-84.63,75.36],"nice":false,"zero":false},"axis":{"values":[-80,-40,0,40]}},
  "y":{"field":"top","type":"quantitative","title":"−log10 (qvalue)","scale":{"domain":[-14.47,314.5],"nice":false,"zero":false},"axis":{"values":[0,100,200,300]}},
  "y2":{"field":"bot"}}},
{"data":{"name":"gray"},"mark":{"type":"circle","size":28,"fill":"#a9a9a9","stroke":"#a9a9a9","strokeWidth":0.8,"fillOpacity":0.45,"strokeOpacity":0.5,"opacity":1},
 "encoding":{"x":{"field":"x","type":"quantitative","title":"Differential Methylation %"},"y":{"field":"y","type":"quantitative","title":"−log10 (qvalue)"}}},
{"data":{"name":"bmass"},"mark":{"type":"area","color":"#2a4462","opacity":0.85},
 "encoding":{"x":{"field":"x","type":"quantitative","title":"Differential Methylation %"},"y":{"field":"top","type":"quantitative","title":"−log10 (qvalue)"},"y2":{"field":"bot"}}},
{"data":{"name":"hypo"},"mark":{"type":"circle","size":28,"fill":"#2a4462","stroke":"#2a4462","strokeWidth":0.8,"fillOpacity":0.42,"strokeOpacity":0.5,"opacity":1},
 "encoding":{"x":{"field":"x","type":"quantitative","title":"Differential Methylation %"},"y":{"field":"y","type":"quantitative","title":"−log10 (qvalue)"}}},
{"data":{"name":"rmass"},"mark":{"type":"area","color":"#b2142e","opacity":0.85},
 "encoding":{"x":{"field":"x","type":"quantitative","title":"Differential Methylation %"},"y":{"field":"top","type":"quantitative","title":"−log10 (qvalue)"},"y2":{"field":"bot"}}},
{"data":{"name":"hyper"},"mark":{"type":"circle","size":28,"fill":"#b2142e","stroke":"#b2142e","strokeWidth":0.8,"fillOpacity":0.42,"strokeOpacity":0.5,"opacity":1},
 "encoding":{"x":{"field":"x","type":"quantitative","title":"Differential Methylation %"},"y":{"field":"y","type":"quantitative","title":"−log10 (qvalue)"}}},
{"data":{"name":"vl"},"mark":{"type":"rule","color":"#bebebe","strokeWidth":2},
 "encoding":{"x":{"field":"x","type":"quantitative","title":"Differential Methylation %"}}},
{"data":{"name":"hl"},"mark":{"type":"rule","color":"#bebebe","strokeWidth":2},
 "encoding":{"y":{"field":"y","type":"quantitative","title":"−log10 (qvalue)"}}},
{"data":{"name":"lab"},"mark":{"type":"text","fontSize":19,"font":"Liberation Sans","color":"#000000","align":"center","baseline":"middle","lineBreak":"\n","lineHeight":27},
 "encoding":{"x":{"field":"x","type":"quantitative","title":"Differential Methylation %"},"y":{"field":"y","type":"quantitative","title":"−log10 (qvalue)"},"text":{"field":"t","type":"nominal"}}},
{"data":{"name":"ell"},"mark":{"type":"point","shape":"M-1,0C-1,-0.2331,-0.5523,-0.422,0,-0.422C0.5523,-0.422,1,-0.2331,1,0C1,0.2331,0.5523,0.422,0,0.422C-0.5523,0.422,-1,0.2331,-1,0Z","size":91446,"filled":false,"stroke":"#ff0000","strokeWidth":2.6,"opacity":1},
 "encoding":{"x":{"field":"x","type":"quantitative","title":"Differential Methylation %"},"y":{"field":"y","type":"quantitative","title":"−log10 (qvalue)"}}}
]
}
